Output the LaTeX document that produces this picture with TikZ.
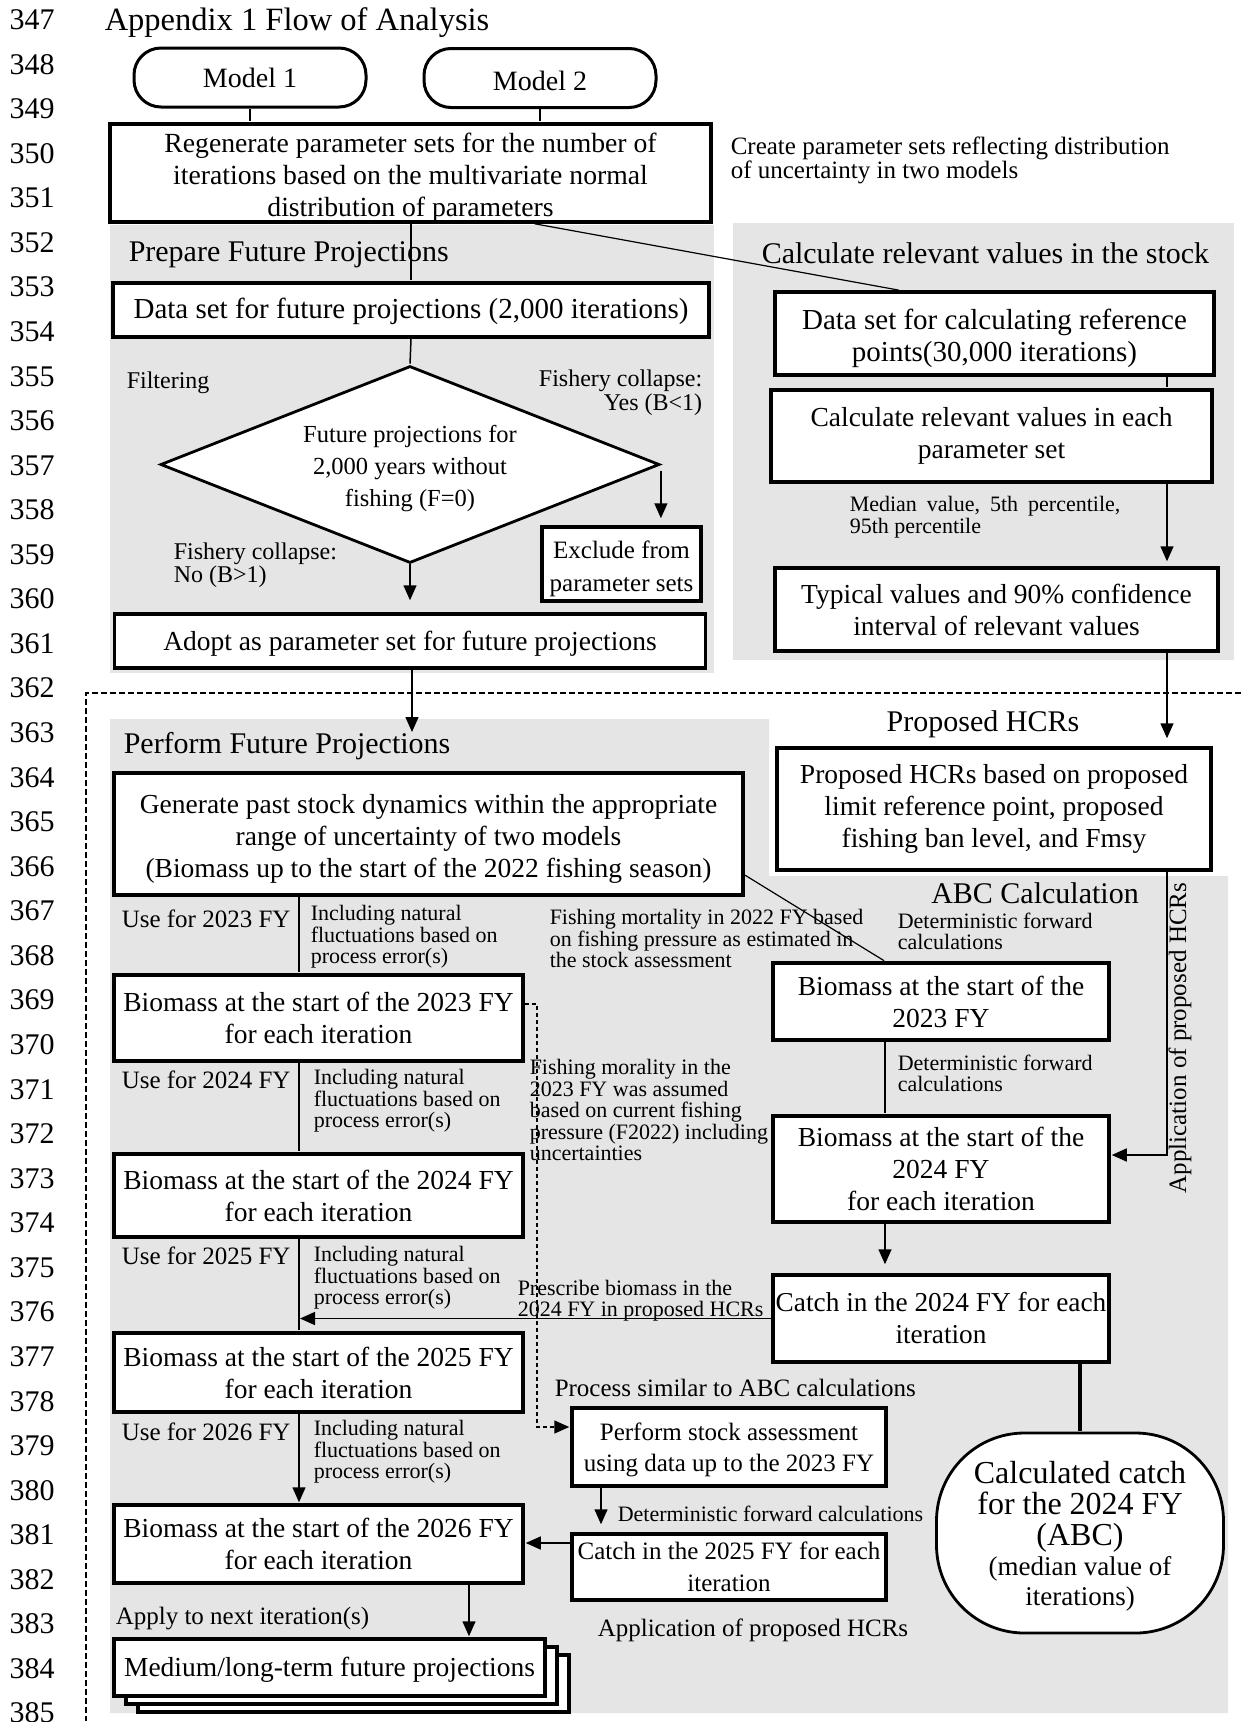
\documentclass[tikz,border=0pt]{standalone}
\usepackage{fontspec}
\setmainfont{Liberation Serif}
\usetikzlibrary{arrows.meta, shapes.geometric, shadows}
\newcommand{\fsz}[2]{\fontsize{#1}{#2}\selectfont}
\newcommand{\down}[2]{\raisebox{-#1}[\height][\depth]{\begin{tabular}{@{}c@{}}#2\end{tabular}}}

\begin{document}
\begin{tikzpicture}[
            x = 1pt, y = -1pt, % one unit per pixel, y runs down
            > = {Triangle[length=15pt, width=13pt]}, % arrow head style
            shorten > = 1pt, % don't touch arrow head to node
            line width = 1.5pt % line style
        ]

        \tikzstyle{proc}=[
            draw = black,
            line width = 3.5pt,
            fill = white,
            inner sep = 0pt,
            align = center,
            font = \fsz{27.5}{32}
        ]
        \tikzstyle{term}=[proc, line width=3pt, rounded corners=27pt, minimum width=232pt, minimum height=59pt, font=\fsz{28}{32}]
        \tikzstyle{area}=[fill=gray!20, draw=none]
        \tikzstyle{ptitle}=[inner sep=0pt, font=\fsz{30}{34}]
        \tikzstyle{smalltxt}=[inner sep=0pt, align=left, anchor=west, font=\fsz{22}{21.5}]
        \tikzstyle{midtxt}=[inner sep=0pt, align=left, anchor=west, font=\fsz{25}{25}]
        \tikzstyle{lineno}=[inner sep=0pt, font=\fsz{30}{30}]

        \useasboundingbox (0,0) rectangle (1241,1722);

        % grey areas
        \fill[area] (110,225) rectangle (714,673);
        \fill[area] (733,223) rectangle (1234,660);
        \fill[area] (110,719) -- (769,719) -- (769,876) -- (1228,876) -- (1228,1713) -- (110,1713) -- cycle;

        % line numbers and dashed frame
        \foreach \i in {0,...,38}{
            \pgfmathtruncatemacro\rowno{347+\i}
            \node[lineno] (ln\i) at (32, 19.8+44.56*\i) {\rowno};
        }
        \draw[dash pattern=on 6pt off 3pt] (1241,693) -- (86,693) -- (86,1722);

        \node[anchor=west, inner sep=0pt, font=\fsz{32.5}{34}] (title) at (104,23) {Appendix 1 Flow of Analysis};

        % top part
        \node[term] (m1) at (250,77.5) {Model 1};
        \node[term] (m2) at (540,78) {\raisebox{-3.3pt}[\height][\depth]{Model 2}};
        \node[proc, minimum width=601pt, minimum height=98pt, font=\fsz{27.7}{32}] (regen) at (410.5,173)
            {\down{5.5pt}{Regenerate parameter sets for the number of\\iterations based on the multivariate normal\\distribution of parameters}};
        \node[smalltxt, font=\fsz{25}{24}] (unc) at (730,160) {Create parameter sets reflecting distribution\\of uncertainty in two models};

        \node[ptitle, anchor=west] (prep) at (128,255) {Prepare Future Projections};
        \node[ptitle, anchor=west] (relv) at (761,253) {Calculate relevant values in the stock};

        \node[proc, minimum width=596pt, minimum height=54pt, font=\fsz{29}{32}] (dfp) at (411,310) {\down{2pt}{Data set for future projections (2,000 iterations)}};
        \node[draw, diamond, aspect=2.53, line width=2.8pt, fill=white, inner sep=0pt,
              minimum width=499pt, minimum height=197pt, align=center, font=\fsz{24.5}{32}] (dia) at (410,464.5)
            {\down{3.3pt}{Future projections for\\2,000 years without\\fishing (F=0)}};
        \node[midtxt, font=\fsz{24}{24}] (filt) at (126,383) {Filtering};
        \node[inner sep=0pt, align=right, anchor=east, font=\fsz{24}{24}] (yes) at (703,393) {Fishery collapse:\\Yes (B<1)};
        \node[midtxt, font=\fsz{24}{23}] (no) at (173,565) {Fishery collapse:\\No (B>1)};
        \node[proc, minimum width=159pt, minimum height=74pt, font=\fsz{25}{33}] (excl) at (621.5,564) {\down{4.4pt}{Exclude from\\parameter sets}};
        \node[proc, minimum width=591pt, minimum height=54pt] (adopt) at (410,641) {\down{3.3pt}{Adopt as parameter set for future projections}};

        \node[proc, minimum width=439pt, minimum height=83pt, font=\fsz{29}{32}] (dref) at (994.5,333.5) {\down{5.5pt}{Data set for calculating reference\\points(30,000 iterations)}};
        \node[proc, minimum width=441pt, minimum height=92pt] (calc) at (991.5,436) {Calculate relevant values in each\\parameter set};
        \node[smalltxt, font=\fsz{22}{22}] (pct) at (849,517) {Median\hspace{10pt}value,\hspace{10pt}5th\hspace{10pt}percentile,\\95th percentile};
        \node[proc, minimum width=443pt, minimum height=83pt] (typ) at (996.5,609.5) {Typical values and 90\% confidence\\interval of relevant values};

        % lower part
        \node[ptitle, anchor=west] (pfpt) at (123,746) {Perform Future Projections};
        \node[ptitle] (hcrt) at (983,724) {Proposed HCRs};
        \node[ptitle] (abct) at (1035,893) {ABC Calculation};
        \node[proc, minimum width=434pt, minimum height=122pt] (hcr) at (994,809)
            {Proposed HCRs based on proposed\\limit reference point, proposed\\fishing ban level, and Fmsy};
        \node[inner sep=0pt, rotate=90, font=\fsz{25}{25}] (apv) at (1180,1038) {Application of proposed HCRs};

        \node[proc, minimum width=629pt, minimum height=122pt] (gen) at (428.5,834)
            {\down{5.5pt}{Generate past stock dynamics within the appropriate\\range of uncertainty of two models\\(Biomass up to the start of the 2022 fishing season)}};

        \node[midtxt] (u23) at (121,919) {Use for 2023 FY};
        \node[smalltxt] (inc23) at (310,937) {Including natural\\fluctuations based on\\process error(s)};
        \node[smalltxt] (fm22) at (549,938.5) {Fishing mortality in 2022 FY based\\on fishing pressure as estimated in\\the stock assessment};
        \node[smalltxt] (det1) at (897,931.5) {Deterministic forward\\calculations};

        \node[proc, minimum width=409pt, minimum height=86pt] (b23l) at (318.5,1018) {Biomass at the start of the 2023 FY\\for each iteration};
        \node[proc, minimum width=336pt, minimum height=77pt] (b23r) at (941,1001.5) {Biomass at the start of the\\2023 FY};
        \node[smalltxt] (det2) at (897,1073.5) {Deterministic forward\\calculations};

        \node[midtxt] (u24) at (121,1080) {Use for 2024 FY};
        \node[smalltxt] (inc24) at (313,1101) {Including natural\\fluctuations based on\\process error(s)};
        \node[smalltxt] (fm23) at (529,1110) {Fishing morality in the\\2023 FY was assumed\\based on current fishing\\pressure (F2022) including\\uncertainties};

        \node[proc, minimum width=409pt, minimum height=83pt] (b24l) at (318.5,1195.5) {Biomass at the start of the 2024 FY\\for each iteration};
        \node[proc, minimum width=336pt, minimum height=106pt] (b24r) at (941,1169) {Biomass at the start of the\\2024 FY\\for each iteration};

        \node[midtxt] (u25) at (121,1256) {Use for 2025 FY};
        \node[smalltxt] (inc25) at (313,1278) {Including natural\\fluctuations based on\\process error(s)};
        \node[smalltxt] (presc) at (517,1300.5) {Prescribe biomass in the\\2024 FY in proposed HCRs};
        \node[proc, minimum width=336pt, minimum height=87pt, font=\fsz{27.3}{32}] (c24) at (941,1318.5) {Catch in the 2024 FY for each\\iteration};

        \node[proc, minimum width=409pt, minimum height=79pt] (b25l) at (318.5,1372.5) {Biomass at the start of the 2025 FY\\for each iteration};
        \node[midtxt] (sim) at (554,1388) {Process similar to ABC calculations};
        \node[proc, minimum width=314pt, minimum height=78pt, font=\fsz{25}{31}] (psa) at (729,1447) {\down{3pt}{Perform stock assessment\\using data up to the 2023 FY}};

        \node[midtxt] (u26) at (121,1432) {Use for 2026 FY};
        \node[smalltxt] (inc26) at (313,1452) {Including natural\\fluctuations based on\\process error(s)};
        \node[smalltxt] (det3) at (617,1514) {Deterministic forward calculations};

        \node[proc, minimum width=409pt, minimum height=78pt] (b26l) at (318.5,1544) {Biomass at the start of the 2026 FY\\for each iteration};
        \node[proc, minimum width=314pt, minimum height=66pt, font=\fsz{25}{32}] (c25) at (729,1567) {Catch in the 2025 FY for each\\iteration};
        \node[midtxt] (aph) at (597,1630) {Application of proposed HCRs};
        \node[midtxt] (nxt) at (115,1619) {Apply to next iteration(s)};
        \node[proc, double copy shadow={shadow xshift=12pt, shadow yshift=-8pt},
              minimum width=431pt, minimum height=57pt] (med) at (329.5,1667.5) {\down{3pt}{Medium/long-term future projections}};

        \node[proc, rounded corners=88pt, line width=2.8pt, minimum width=287pt, minimum height=200pt,
              font=\fsz{32}{29.6}] (abc) at (1080,1533)
            {\down{4.5pt}{Calculated catch\\for the 2024 FY\\(ABC)\\{\fsz{27}{29.5}(median value of}\\{\fsz{27}{29.5}iterations)}}};

        % connectors
        \coordinate (rx) at (1167,0);
        \coordinate (lx) at (299,0);
        \coordinate (mx) at (885,0);
        \coordinate (px) at (601,0);
        \coordinate (bx) at (469,0);
        \coordinate (dx) at (537,1427);
        \coordinate (pfpin) at (412,733);

        \draw (m1.south) -- (m1.south |- regen.north);
        \draw (m2.south) -- (m2.south |- regen.north);
        \draw (regen.south -| dfp.north) -- (dfp.north);
        \draw[line width=1.2pt] ([xshift=124pt]regen.south) -- ([xshift=-95pt]dref.north);
        \draw (dfp.south) -- (dia.north);
        \draw[->, shorten >=13pt] ([yshift=-6pt]dia.east) -- ([yshift=-6pt]dia.east |- excl.north);
        \draw[->, shorten >=12pt] (dia.south) -- (adopt.north);
        \draw[->] (adopt.south -| pfpin) -- (pfpin);

        \draw (dref.south -| rx) -- (calc.north -| rx);
        \draw[->, shorten >=5pt] (calc.south -| rx) -- (typ.north -| rx);
        \draw[->, shorten >=8pt] (typ.south -| rx) -- (hcr.north -| rx);
        \draw[->] (hcr.south -| rx) |- ([yshift=14pt]b24r.east);

        \draw[line width=1.2pt] ([yshift=-41pt]gen.east) -- ([xshift=-56pt]b23r.north);
        \draw (gen.south -| lx) -- (b23l.north -| lx);
        \draw (b23l.south -| lx) -- (b24l.north -| lx);
        \draw (b24l.south -| lx) -- (b25l.north -| lx);
        \draw[->] (b25l.south -| lx) -- (b26l.north -| lx);
        \draw[->] (c24.west) -- (c24.west -| lx);
        \draw (b23r.south -| mx) -- (b24r.north -| mx);
        \draw[->, shorten >=9pt] (b24r.south -| mx) -- (c24.north -| mx);
        \draw[line width=4.5pt] (abc.north |- c24.south) -- (abc.north);
        \draw[->, dash pattern=on 4pt off 3pt] ([yshift=14pt]b23l.east) -| (dx) -- ([yshift=20pt]psa.west);
        \draw[->, shorten >=8pt] (psa.south -| px) -- (c25.north -| px);
        \draw[->] ([yshift=24pt]c25.west) -- ([yshift=24pt]c25.west -| b26l.east);
        \draw[->] (b26l.south -| bx) -- (med.north -| bx);

  \end{tikzpicture}
\end{document}
